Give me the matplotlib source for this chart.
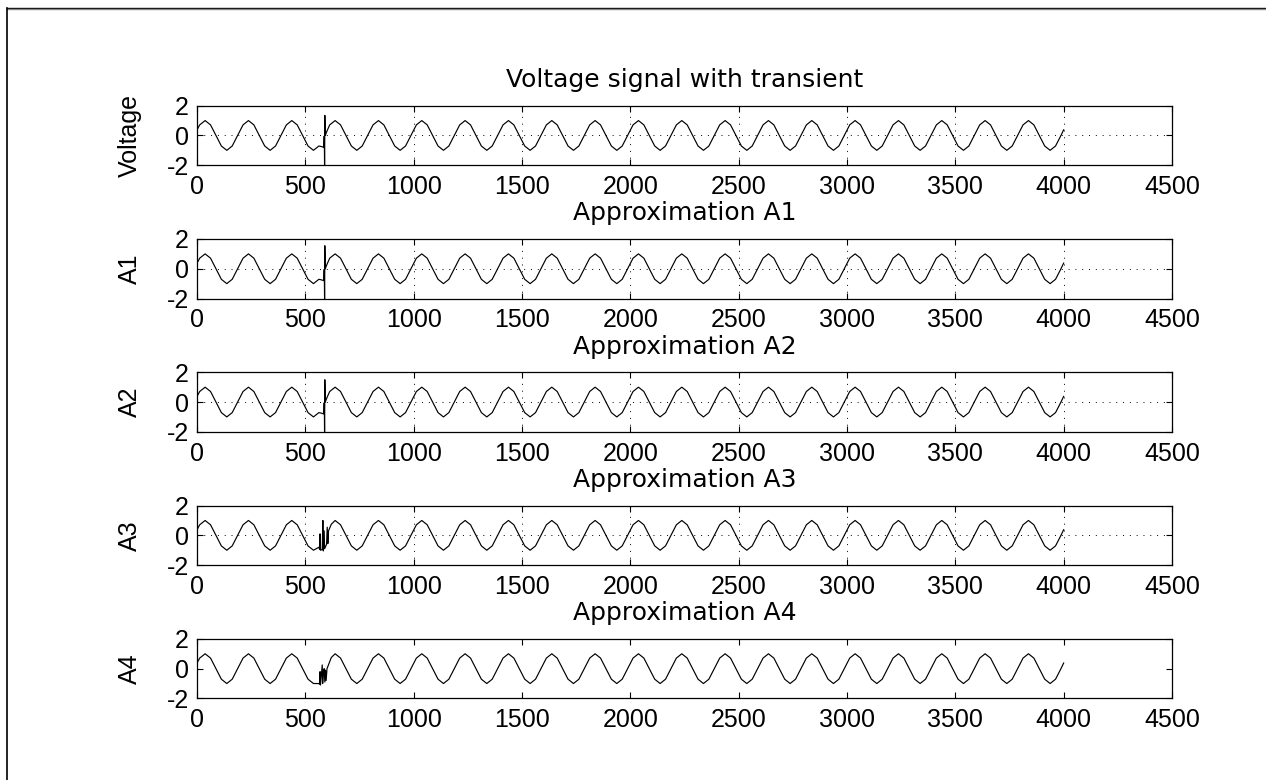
import numpy as np
import matplotlib
matplotlib.use("Agg")
import matplotlib.pyplot as plt
from matplotlib.lines import Line2D

plt.rcParams['font.family'] = ['Liberation Sans', 'DejaVu Sans']
plt.rcParams['axes.unicode_minus'] = False

# ---------------- data ----------------
titles = ["Voltage signal with transient", "Approximation A1", "Approximation A2",
          "Approximation A3", "Approximation A4"]
ylabels = ["Voltage", "A1", "A2", "A3", "A4"]
x_ticks = [0, 500, 1000, 1500, 2000, 2500, 3000, 3500, 4000, 4500]
y_ticks = [-2, 0, 2]
grid_on = [True, True, True, True, False]

# sample positions of the read-off waveform (every 1/8 cycle, cycle ~200 samples)
sample_x = np.concatenate([[0.0], np.arange(12.5, 4000, 25), [4000.0]])

# steady-state waveform values read at those positions
wave_base = [
    0.38,
    0.71, 1.0, 0.71, 0.0, -0.71, -1.0, -0.71, 0.0,
    0.71, 1.0, 0.71, 0.0, -0.71, -1.0, -0.71, 0.0,
    0.71, 1.0, 0.71, 0.0, -0.71, -1.0, -0.71, 0.0,
    0.71, 1.0, 0.71, 0.0, -0.71, -1.0, -0.71, 0.0,
    0.71, 1.0, 0.71, 0.0, -0.71, -1.0, -0.71, 0.0,
    0.71, 1.0, 0.71, 0.0, -0.71, -1.0, -0.71, 0.0,
    0.71, 1.0, 0.71, 0.0, -0.71, -1.0, -0.71, 0.0,
    0.71, 1.0, 0.71, 0.0, -0.71, -1.0, -0.71, 0.0,
    0.71, 1.0, 0.71, 0.0, -0.71, -1.0, -0.71, 0.0,
    0.71, 1.0, 0.71, 0.0, -0.71, -1.0, -0.71, 0.0,
    0.71, 1.0, 0.71, 0.0, -0.71, -1.0, -0.71, 0.0,
    0.71, 1.0, 0.71, 0.0, -0.71, -1.0, -0.71, 0.0,
    0.71, 1.0, 0.71, 0.0, -0.71, -1.0, -0.71, 0.0,
    0.71, 1.0, 0.71, 0.0, -0.71, -1.0, -0.71, 0.0,
    0.71, 1.0, 0.71, 0.0, -0.71, -1.0, -0.71, 0.0,
    0.71, 1.0, 0.71, 0.0, -0.71, -1.0, -0.71, 0.0,
    0.71, 1.0, 0.71, 0.0, -0.71, -1.0, -0.71, 0.0,
    0.71, 1.0, 0.71, 0.0, -0.71, -1.0, -0.71, 0.0,
    0.71, 1.0, 0.71, 0.0, -0.71, -1.0, -0.71, 0.0,
    0.71, 1.0, 0.71, 0.0, -0.71, -1.0, -0.71, 0.0,
    0.38,
]

# transient segments (replace the steady waveform between first and last x)
voltage_tx = [562.5, 575, 585, 587, 588, 589, 590, 592, 600, 612.5]
voltage_ty = [-0.71, -0.75, -0.8, -0.05, -0.8, -2.4, 1.35, 0.0, 0.3, 0.71]

a1_tx = [562.5, 575, 585, 587, 588, 589, 590, 592, 600, 612.5]
a1_ty = [-0.71, -0.75, -0.8, -0.05, -0.8, -2.4, 1.55, 0.0, 0.3, 0.71]

a2_tx = [562.5, 575, 585, 587, 588, 589, 590, 592, 600, 612.5]
a2_ty = [-0.71, -0.75, -0.8, -0.05, -0.8, -2.4, 1.5, 0.0, 0.3, 0.71]

a3_tx = [562.5, 566, 568, 570, 578, 581, 583, 587, 589, 598, 601, 604, 607, 620]
a3_ty = [-0.8, -0.95, 0.1, -1.0, -0.95, 1.0, -1.05, 0.3, -0.9, -0.6, 0.55, -0.55, 0.3, 0.75]

a4_tx = [562.5, 566, 568, 570, 575, 578, 580, 584, 587, 590, 593, 596, 600, 620]
a4_ty = [-1.0, -1.05, -0.2, -1.1, -0.3, 0.25, -1.0, -0.2, 0.0, -0.9, -0.1, -0.8, 0.0, 0.75]

transients = [(voltage_tx, voltage_ty), (a1_tx, a1_ty), (a2_tx, a2_ty),
              (a3_tx, a3_ty), (a4_tx, a4_ty)]


def compose(tx, ty):
    bx = np.asarray(sample_x)
    by = np.asarray(wave_base)
    before = bx < tx[0]
    after = bx > tx[-1]
    x = np.concatenate([bx[before], tx, bx[after]])
    y = np.concatenate([by[before], ty, by[after]])
    return x, y


# ---------------- figure ----------------
W, H = 1266, 780
fig = plt.figure(figsize=(W / 100, H / 100), dpi=100)
fig.patch.set_facecolor('white')

left_px, width_px = 197, 975
h_px = 59.5
fs = 18

for i in range(5):
    top_px = 105.7 + 133.3 * i
    ax = fig.add_axes([left_px / W, 1 - (top_px + h_px) / H, width_px / W, h_px / H])
    x, y = compose(*transients[i])
    ax.plot(x, y, color='black', lw=0.85)
    ax.set_xlim(0, 4500)
    ax.set_ylim(-2, 2)
    ax.set_xticks(x_ticks)
    ax.set_yticks(y_ticks)
    ax.set_xticklabels([str(v) for v in x_ticks])
    ax.set_yticklabels([str(v) for v in y_ticks])
    ax.tick_params(direction='in', top=True, right=True, length=4.5, width=0.8,
                   labelsize=fs, colors='black')
    ax.tick_params(axis='x', pad=7)
    ax.tick_params(axis='y', pad=6)
    for s in ax.spines.values():
        s.set_linewidth(0.9)
        s.set_color('black')
    if grid_on[i]:
        ax.grid(True, color='black', linestyle=(0, (1, 6)), lw=0.7)
    ax.set_title(titles[i], fontsize=fs, pad=13.5, family=['DejaVu Sans'])
    ax.set_ylabel(ylabels[i], fontsize=fs)
    ax.yaxis.set_label_coords(-0.0564, 0.5)

# window frame
fig.add_artist(Line2D([7.5 / W, 1], [1 - 7.5 / H] * 2, transform=fig.transFigure,
                      color='black', lw=1.0))
fig.add_artist(Line2D([7.5 / W, 1], [1 - 9 / H] * 2, transform=fig.transFigure,
                      color='#888888', lw=1.0))
fig.add_artist(Line2D([7.5 / W] * 2, [0, 1 - 7.5 / H], transform=fig.transFigure,
                      color='black', lw=1.2))

fig.savefig("out.png", dpi=100, facecolor='white')
